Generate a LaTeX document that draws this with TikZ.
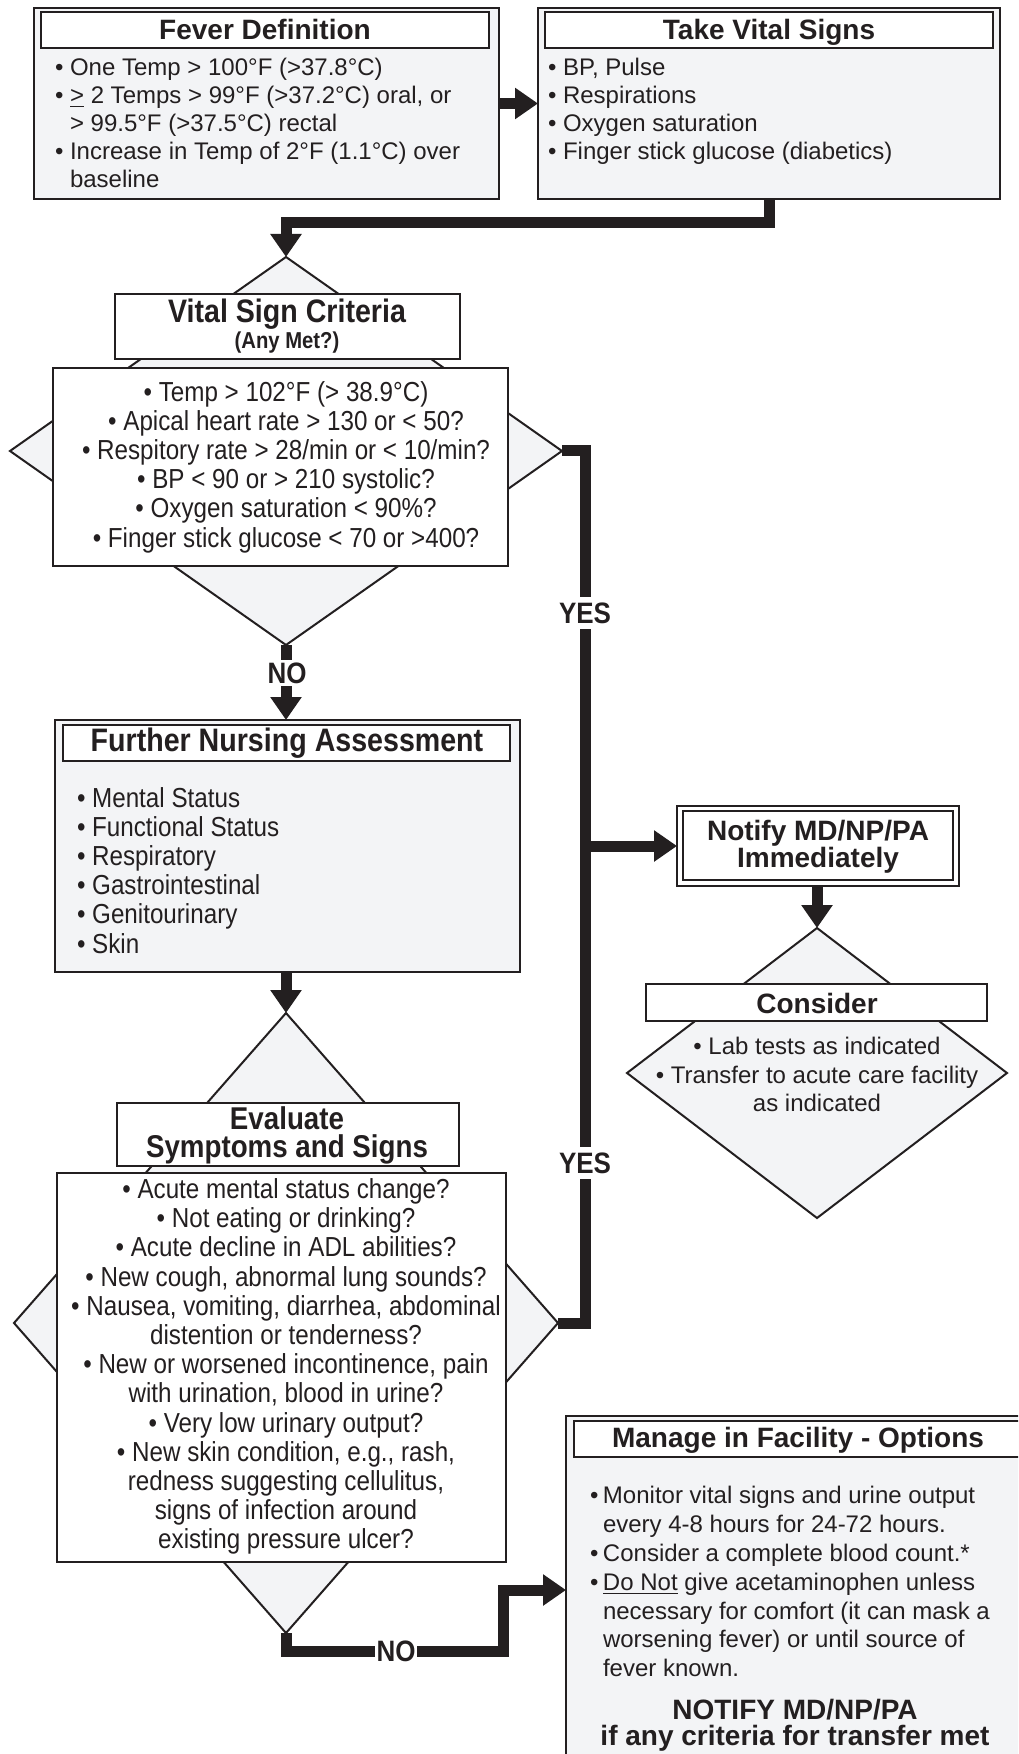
\documentclass[tikz,border=0pt]{standalone}
\usepackage{fontspec}
\setmainfont{Liberation Sans}
\newfontfamily\condfam{Liberation Sans}[FakeStretch=0.88]
\usetikzlibrary{shapes.geometric,arrows.meta,fit}
\definecolor{ink}{RGB}{35,31,32}
\definecolor{boxgray}{RGB}{243,244,246}
\begin{document}
\begin{tikzpicture}[x=0.5pt,y=-0.5pt,
  every node/.style={inner sep=0pt, outer sep=0pt, text=ink},
  outerbox/.style={draw=ink, line width=1.3pt, fill=boxgray},
  titlebox/.style={draw=ink, line width=0.7pt, fill=white},
  diabox/.style={diamond, draw=ink, line width=1pt, fill=boxgray},
  contentbox/.style={draw=ink, line width=1pt, fill=white},
  conn/.style={draw=ink, line width=5.5pt, line join=miter},
  arr/.style={conn, -{Triangle[length=11.5pt,width=15pt]}},
  rtitle/.style={font=\bfseries\fontsize{14}{16}\selectfont, anchor=base},
  ctitle/.style={font=\condfam\bfseries\fontsize{16.25}{18}\selectfont, anchor=base},
  rbody/.style={font=\fontsize{12}{14}\selectfont, align=left, anchor=north west},
  cbody/.style={font=\condfam\fontsize{13.75}{14.6}\selectfont},
  yn/.style={font=\condfam\bfseries\fontsize{14.75}{16}\selectfont, fill=white, inner xsep=1pt, inner ysep=3pt}
]
\useasboundingbox (0,0) rectangle (1018,1754);
\clip (0,0) rectangle (1018,1754);
\fill[white] (0,0) rectangle (1018,1754);

% ---------- Fever Definition ----------
\node[outerbox, fit={(34,8) (499,199)}] (fever) {};
\node[titlebox, fit={(41,12) (489,48)}] (fevert) {};
\node[rtitle] (fevertx) at (265,40) {Fever Definition};
\node[rbody] (feverb) at (55,56.4) {\strut• One Temp > 100°F (>37.8°C)\\
• \underline{>} 2 Temps > 99°F (>37.2°C) oral, or\\
\hspace*{7.5pt}> 99.5°F (>37.5°C) rectal\\
• Increase in Temp of 2°F (1.1°C) over\\
\hspace*{7.5pt}baseline};

% ---------- Take Vital Signs ----------
\node[outerbox, fit={(538,8) (1000,199)}] (tvs) {};
\node[titlebox, fit={(545,12) (993,48)}] (tvst) {};
\node[rtitle] (tvstx) at (769,40) {Take Vital Signs};
\node[rbody] (tvsb) at (548,56.4) {\strut• BP, Pulse\\
• Respirations\\
• Oxygen saturation\\
• Finger stick glucose (diabetics)};

% ---------- Vital Sign Criteria ----------
\node[diabox, minimum width=276pt, minimum height=194pt] (vsc) at (286,451) {};
\node[titlebox, fit={(115,294) (460,359)}] (vsct) {};
\node[contentbox, fit={(53,368) (508,566)}] (vscc) {};
\node[ctitle] (vsctx1) at (287,323) {Vital Sign Criteria};
\node[ctitle, font=\condfam\bfseries\fontsize{11.5}{13}\selectfont] (vsctx2) at (287,349) {(Any Met?)};
\node[cbody, align=center, anchor=north] (vscb) at (286,380.6) {\strut• Temp > 102°F (> 38.9°C)\\
• Apical heart rate > 130 or < 50?\\
• Respitory rate > 28/min or < 10/min?\\
• BP < 90 or > 210 systolic?\\
• Oxygen saturation < 90\%?\\
• Finger stick glucose < 70 or >400?};

% ---------- Further Nursing Assessment ----------
\node[outerbox, fit={(55,720) (520,972)}] (fna) {};
\node[titlebox, fit={(63,725) (510,761)}] (fnat) {};
\node[ctitle] (fnatx) at (287,751) {Further Nursing Assessment};
\node[cbody, align=left, anchor=north west] (fnab) at (77,786.6) {\strut• Mental Status\\
• Functional Status\\
• Respiratory\\
• Gastrointestinal\\
• Genitourinary\\
• Skin};

% ---------- Evaluate Symptoms and Signs ----------
\node[diabox, minimum width=272pt, minimum height=310pt] (ev) at (286,1323) {};
\node[titlebox, fit={(117,1103) (459,1166)}] (evt) {};
\node[contentbox, fit={(57,1173) (506,1562)}] (evc) {};
\node[ctitle, font=\condfam\bfseries\fontsize{15.75}{18}\selectfont] (evtx1) at (287,1129) {Evaluate};
\node[ctitle, font=\condfam\bfseries\fontsize{15.75}{18}\selectfont] (evtx2) at (287,1157) {Symptoms and Signs};
\node[cbody, align=center, anchor=north] (evb) at (286,1178) {\strut• Acute mental status change?\\
• Not eating or drinking?\\
• Acute decline in ADL abilities?\\
• New cough, abnormal lung sounds?\\
• Nausea, vomiting, diarrhea, abdominal\\
distention or tenderness?\\
• New or worsened incontinence, pain\\
with urination, blood in urine?\\
• Very low urinary output?\\
• New skin condition, e.g., rash,\\
redness suggesting cellulitus,\\
signs of infection around\\
existing pressure ulcer?};

% ---------- Notify MD/NP/PA Immediately ----------
\node[draw=ink, line width=1.3pt, fill=white, fit={(677,806) (959,886)}] (nt) {};
\node[draw=ink, line width=0.6pt, fit={(683,811) (953,880)}] (nti) {};
\node[rtitle] (nttx1) at (818,840) {Notify MD/NP/PA};
\node[rtitle] (nttx2) at (818,867) {Immediately};

% ---------- Consider ----------
\node[diabox, minimum width=190pt, minimum height=145pt] (cons) at (817,1073) {};
\node[titlebox, fit={(646,984) (987,1021)}] (const) {};
\node[rtitle] (constx) at (817,1013) {Consider};
\node[font=\fontsize{12}{14.25}\selectfont, align=center, anchor=north] (consb) at (817,1035) {\strut• Lab tests as indicated\\
• Transfer to acute care facility\\
as indicated};

% ---------- Manage in Facility ----------
\node[outerbox, fit={(566,1416) (1030,1790)}] (mg) {};
\node[titlebox, fit={(574,1421) (1022,1457)}] (mgt) {};
\node[rtitle] (mgtx) at (798,1447) {Manage in Facility - Options};
\node[rbody, font=\fontsize{12}{14.4}\selectfont] (mgb) at (590,1483.8) {\strut\makebox[6.5pt][l]{•}Monitor vital signs and urine output\\
\hspace*{6.5pt}every 4-8 hours for 24-72 hours.\\
\makebox[6.5pt][l]{•}Consider a complete blood count.*\\
\makebox[6.5pt][l]{•}\underline{Do Not} give acetaminophen unless\\
\hspace*{6.5pt}necessary for comfort (it can mask a\\
\hspace*{6.5pt}worsening fever) or until source of\\
\hspace*{6.5pt}fever known.};
\node[rtitle] (mgtx2) at (795,1719) {NOTIFY MD/NP/PA};
\node[rtitle] (mgtx3) at (795,1745) {if any criteria for transfer met};

% ---------- Connectors ----------
\coordinate (c1) at (0,223);
\coordinate (yb) at (585,0);
\coordinate (noturn) at (503,1651);
\coordinate (noup) at (503,1590);

\draw[arr] (fever.east) -- (tvs.west);
\draw[arr] (tvs.south) -- (tvs.south |- c1) -| (vsc.north);
\draw[arr] (vsc.south) -- (vsc.south |- fna.north);
\draw[arr] (ev.north |- fna.south) -- (ev.north);
\draw[conn] (vsc.east) -- (vsc.east -| yb) -- (ev.east -| yb) -- (ev.east);
\draw[arr] (nt.west -| yb) -- (nt.west);
\draw[arr] (cons.north |- nt.south) -- (cons.north);
\draw[arr] (ev.south) |- (noturn) -- (noup) -- (mg.west |- noup);

% ---------- Labels ----------
\node[yn] (yes1) at (585,613) {YES};
\node[yn] (yes2) at (585,1163) {YES};
\node[yn, inner ysep=1.5pt] (no1) at (287,673) {NO};
\node[yn] (no2) at (396,1651) {NO};
\end{tikzpicture}
\end{document}
